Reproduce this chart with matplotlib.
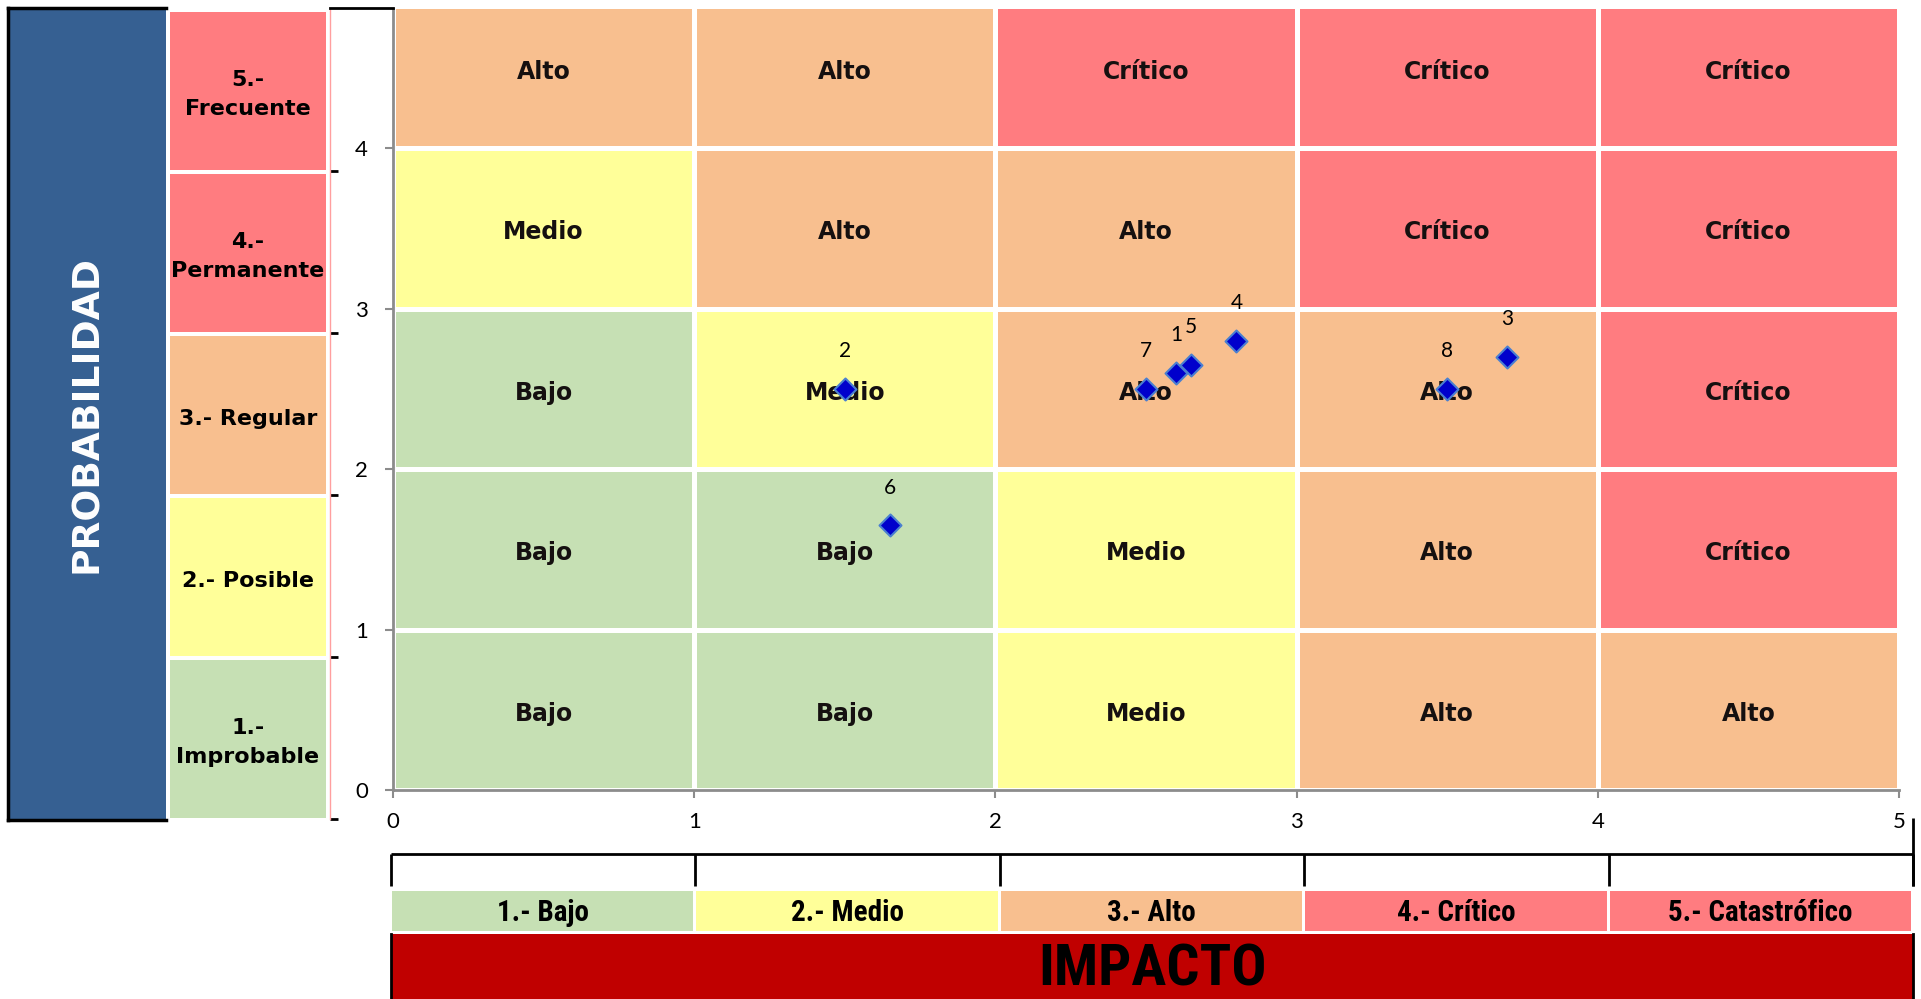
import numpy as np
import matplotlib
matplotlib.use("Agg")
import matplotlib.pyplot as plt
from matplotlib.colors import ListedColormap, BoundaryNorm
from matplotlib.lines import Line2D
from matplotlib import font_manager

# ---------------------------------------------------------------- data
prob_labels = ["1.-\nImprobable", "2.- Posible", "3.- Regular", "4.-\nPermanente", "5.-\nFrecuente"]
impact_labels = ["1.- Bajo", "2.- Medio", "3.- Alto", "4.- Crítico", "5.- Catastrófico"]

# risk level per cell: rows = probability 1..5 (bottom to top), columns = impact 1..5
risk_levels = ["Bajo", "Medio", "Alto", "Crítico"]
risk_matrix = [
    ["Bajo", "Bajo", "Medio", "Alto", "Alto"],
    ["Bajo", "Bajo", "Medio", "Alto", "Crítico"],
    ["Bajo", "Medio", "Alto", "Alto", "Crítico"],
    ["Medio", "Alto", "Alto", "Crítico", "Crítico"],
    ["Alto", "Alto", "Crítico", "Crítico", "Crítico"],
]
prob_class = ["Bajo", "Medio", "Alto", "Crítico", "Crítico"]
impact_class = ["Bajo", "Medio", "Alto", "Crítico", "Crítico"]

# identified risks
risk_ids = [1, 2, 3, 4, 5, 6, 7, 8]
risk_impact = [2.6, 1.5, 3.7, 2.8, 2.65, 1.65, 2.5, 3.5]
risk_prob = [2.6, 2.5, 2.7, 2.8, 2.65, 1.65, 2.5, 2.5]

x_ticks = [0, 1, 2, 3, 4, 5]
y_ticks = [0, 1, 2, 3, 4]

# ---------------------------------------------------------------- style
level_colors = {"Bajo": "#C6E0B4", "Medio": "#FFFF99",
                "Alto": "#F8BF8F", "Crítico": "#FF7C80"}
installed = {f.name for f in font_manager.fontManager.ttflist}
REG = "Lato" if "Lato" in installed else "DejaVu Sans"
NARROW = next((n for n in ["Liberation Sans Narrow", "Roboto Condensed"]
               if n in installed), "DejaVu Sans")
plt.rcParams["font.family"] = [REG, "DejaVu Sans"]
bold_fam = ["DejaVu Sans"]
narrow_fam = [NARROW, "DejaVu Sans"]

W, H = 1921, 999
fig = plt.figure(figsize=(W / 100, H / 100), dpi=100)


def px_axes(x0, y0, x1, y1, **kw):
    """Axes placed by pixel box (origin top-left)."""
    return fig.add_axes([x0 / W, 1 - y1 / H, (x1 - x0) / W, (y1 - y0) / H], **kw)


# ---------------------------------------------------------------- main matrix
ax = px_axes(393, 9, 1899, 790)
lvl_idx = np.array([[risk_levels.index(v) for v in row] for row in risk_matrix])
cmap = ListedColormap([level_colors[l] for l in risk_levels])
norm = BoundaryNorm(np.arange(len(risk_levels) + 1) - 0.5, len(risk_levels))
ax.pcolormesh(np.arange(6), np.arange(6), lvl_idx, cmap=cmap, norm=norm,
              edgecolors="white", linewidth=2.5, zorder=1)
for r, row in enumerate(risk_matrix):
    for c, val in enumerate(row):
        ax.text(c + 0.5, r + 0.475, val, ha="center", va="center", fontsize=17,
                fontweight="bold", family=bold_fam, color="#151010",
                zorder=2, clip_on=True)

ax.set_xlim(0, 5)
ax.set_ylim(0, 781 / 160.5)
ax.set_xticks(x_ticks)
ax.set_yticks(y_ticks)
ax.tick_params(direction="out", length=6, width=1.5, color="#8C8C8C",
               labelsize=16, labelcolor="black")
ax.tick_params(axis="y", pad=12)
ax.tick_params(axis="x", pad=10)
for s in ["top", "right"]:
    ax.spines[s].set_visible(False)
for s in ["left", "bottom"]:
    ax.spines[s].set_color("#8C8C8C")
    ax.spines[s].set_linewidth(2)

ax.scatter(risk_impact, risk_prob, marker="D", s=125, c="#0000CC",
           edgecolors="#4A7FD0", linewidths=1.5, zorder=5)
for rid, x, y in zip(risk_ids, risk_impact, risk_prob):
    ax.annotate(str(rid), (x, y), xytext=(0, 27), textcoords="offset points",
                ha="center", va="center", fontsize=15, color="black", zorder=6)

# ---------------------------------------------------------------- probability column
axp = px_axes(170, 9, 330, 819)
axp.barh(np.arange(5) + 0.006, [1] * 5, height=0.975, align="edge",
         color=[level_colors[c] for c in prob_class])
for i, lab in enumerate(prob_labels):
    axp.text(0.5, i + 0.47, lab, ha="center", va="center", fontsize=16,
             fontweight="bold", family=bold_fam, color="black", linespacing=1.55)
axp.set_xlim(0, 160 / 156)
axp.set_ylim(0, 5)
axp.set_xticks([])
axp.set_yticks(y_ticks)
axp.yaxis.tick_right()
axp.tick_params(axis="y", direction="out", length=6, width=2, color="black",
                labelright=False, labelleft=False)
for s in ["top", "left", "bottom"]:
    axp.spines[s].set_visible(False)
axp.spines["right"].set_color("#FF9F9F")
axp.spines["right"].set_linewidth(1)
fig.add_artist(Line2D([330 / W, 393 / W], [1 - 8 / H, 1 - 8 / H],
                      color="black", lw=2))

# ---------------------------------------------------------------- PROBABILIDAD box
axb = px_axes(8, 8, 166, 820)
axb.set_facecolor("#366092")
axb.set_xticks([])
axb.set_yticks([])
axb.spines["right"].set_visible(False)
for s in ["top", "left", "bottom"]:
    axb.spines[s].set_color("black")
    axb.spines[s].set_linewidth(2.5)
axb.text(0.5, 0.5, "PROBABILIDAD", rotation=90, ha="center", va="center",
         fontsize=27, fontweight="bold", family=bold_fam, color="white",
         transform=axb.transAxes)

# ---------------------------------------------------------------- impact bracket
axk = px_axes(391, 818, 1913, 886)
axk.set_xlim(0, 5)
axk.set_ylim(0, 1)
axk.axis("off")
bracket_y = 32 / 68
axk.plot([0, 5], [bracket_y, bracket_y], color="black", lw=2, clip_on=False,
         solid_capstyle="butt")
axk.vlines(x_ticks, 0, bracket_y, color="black", lw=2, clip_on=False)
axk.vlines([5], 0, 1, color="black", lw=2, clip_on=False)

# ---------------------------------------------------------------- impact categories
axc = px_axes(392, 891, 1914, 931)
axc.bar(np.arange(5), [1] * 5, width=0.99, align="edge",
        color=[level_colors[c] for c in impact_class])
for i, lab in enumerate(impact_labels):
    axc.text(i + 0.495, 0.44, lab, ha="center", va="center", fontsize=21,
             fontweight="bold", color="black", family=narrow_fam)
axc.set_xlim(0, 5)
axc.set_ylim(0, 1)
axc.axis("off")

# ---------------------------------------------------------------- IMPACTO banner
axi = px_axes(391, 934, 1913, 1000)
axi.set_facecolor("#C00000")
axi.set_xticks([])
axi.set_yticks([])
for s in ["top", "bottom"]:
    axi.spines[s].set_visible(False)
for s in ["left", "right"]:
    axi.spines[s].set_color("black")
    axi.spines[s].set_linewidth(2)
axi.text(0.5, 0.45, "IMPACTO", ha="center", va="center", fontsize=42,
         fontweight="bold", color="black", family=narrow_fam,
         transform=axi.transAxes)

fig.savefig("out.png", dpi=100, facecolor="white")
